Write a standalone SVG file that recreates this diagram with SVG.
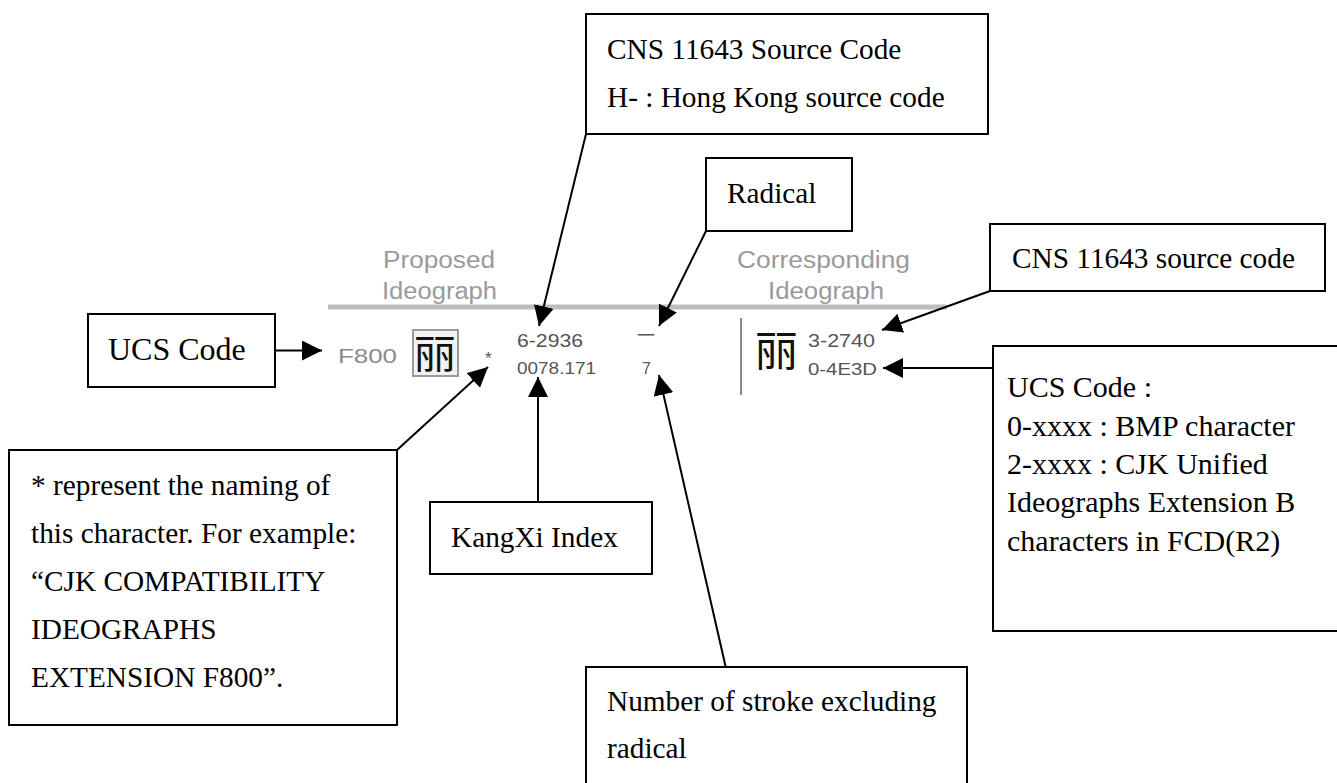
<svg xmlns="http://www.w3.org/2000/svg" width="1337" height="783" viewBox="0 0 1337 783">
<style>
.box{fill:#fff;stroke:#000;stroke-width:2}
.t{font-family:"Liberation Serif","Times New Roman",serif;font-size:29.3px;fill:#000}
.hd{font-family:"Liberation Sans",Arial,sans-serif;fill:#9a9a9a}
.code{font-family:"Liberation Sans",Arial,sans-serif;fill:#555}
.cjk{font-family:"Noto Sans CJK TC","Noto Sans CJK SC",sans-serif;font-weight:normal;fill:#111}
.conn{stroke:#000;stroke-width:2;fill:none;marker-end:url(#ah)}
</style>
<defs>
<marker id="ah" markerUnits="userSpaceOnUse" markerWidth="20" markerHeight="20" refX="20" refY="10" orient="auto">
<path d="M0,0 L20,10 L0,20 z" fill="#000"/>
</marker>
</defs>
<rect width="1337" height="783" fill="#fff"/>

<g id="table">
<text class="hd" x="383" y="268" font-size="23" textLength="112" lengthAdjust="spacingAndGlyphs">Proposed</text>
<text class="hd" x="382" y="299" font-size="23" textLength="115" lengthAdjust="spacingAndGlyphs">Ideograph</text>
<text class="hd" x="737" y="268" font-size="23" textLength="173" lengthAdjust="spacingAndGlyphs">Corresponding</text>
<text class="hd" x="768" y="299" font-size="23" textLength="116" lengthAdjust="spacingAndGlyphs">Ideograph</text>
<line x1="328" y1="307" x2="947" y2="307" stroke="#bdbdbd" stroke-width="5"/>
<text class="hd" x="338" y="363" font-size="21" textLength="59" lengthAdjust="spacingAndGlyphs" style="fill:#8a8a8a">F800</text>
<rect x="413" y="330" width="45" height="46" fill="#f2f2f2" stroke="#9a9a9a" stroke-width="2"/>
<text class="cjk" x="414" y="368" font-size="40" textLength="42" lengthAdjust="spacingAndGlyphs">丽</text>
<text class="code" x="485" y="364" font-size="17">*</text>
<text class="code" x="517" y="347" font-size="19" textLength="66" lengthAdjust="spacingAndGlyphs">6-2936</text>
<text class="code" x="517" y="374" font-size="16" textLength="79" lengthAdjust="spacingAndGlyphs">0078.171</text>
<text class="code" x="637" y="342" font-size="18" style="font-family:'Noto Sans CJK TC',sans-serif">一</text>
<text class="code" x="642" y="374" font-size="16">7</text>
<line x1="741" y1="318" x2="741" y2="395" stroke="#888" stroke-width="2"/>
<text class="cjk" x="755" y="366" font-size="42" textLength="43" lengthAdjust="spacingAndGlyphs">丽</text>
<text class="code" x="808" y="347" font-size="19" textLength="67" lengthAdjust="spacingAndGlyphs">3-2740</text>
<text class="code" x="808" y="375" font-size="17" textLength="69" lengthAdjust="spacingAndGlyphs">0-4E3D</text>
</g>

<g id="connectors">
<line class="conn" x1="275" y1="350.5" x2="322" y2="350.5"/>
<line class="conn" x1="586" y1="134" x2="539" y2="326"/>
<line class="conn" x1="706" y1="231" x2="659" y2="326"/>
<line class="conn" x1="990" y1="291" x2="882" y2="330"/>
<line class="conn" x1="993" y1="368" x2="883" y2="368"/>
<line class="conn" x1="397" y1="450" x2="488" y2="367"/>
<line class="conn" x1="538" y1="502" x2="538" y2="377"/>
<line class="conn" x1="725.7" y1="667" x2="659" y2="375"/>
</g>

<g id="node-cns-top">
<rect class="box" x="586" y="14" width="402" height="120"/>
<text class="t" x="607" y="59">CNS 11643 Source Code</text>
<text class="t" x="607" y="107">H- : Hong Kong source code</text>
</g>

<g id="node-radical">
<rect class="box" x="706" y="158" width="146" height="73"/>
<text class="t" x="727" y="203">Radical</text>
</g>

<g id="node-cns-source">
<rect class="box" x="990" y="224" width="335" height="67"/>
<text class="t" x="1012" y="268">CNS 11643 source code</text>
</g>

<g id="node-ucs-left">
<rect class="box" x="88" y="314" width="187" height="73"/>
<text class="t" x="108" y="360" style="font-size:32px">UCS Code</text>
</g>

<g id="node-ucs-right">
<rect class="box" x="993" y="346" width="360" height="285"/>
<text class="t" x="1007" y="397" style="font-size:30px">UCS Code :</text>
<text class="t" x="1007" y="436" style="font-size:30px">0-xxxx : BMP character</text>
<text class="t" x="1007" y="474" style="font-size:30px">2-xxxx : CJK Unified</text>
<text class="t" x="1007" y="512" style="font-size:30px">Ideographs Extension B</text>
<text class="t" x="1007" y="551" style="font-size:30px">characters in FCD(R2)</text>
</g>

<g id="node-naming">
<rect class="box" x="9" y="450" width="388" height="275"/>
<text class="t" x="31" y="495">* represent the naming of</text>
<text class="t" x="31" y="543">this character. For example:</text>
<text class="t" x="31" y="591">“CJK COMPATIBILITY</text>
<text class="t" x="31" y="639">IDEOGRAPHS</text>
<text class="t" x="31" y="687">EXTENSION F800”.</text>
</g>

<g id="node-kangxi">
<rect class="box" x="430" y="502" width="222" height="72"/>
<text class="t" x="451" y="547">KangXi Index</text>
</g>

<g id="node-strokes">
<rect class="box" x="586" y="667" width="381" height="130"/>
<text class="t" x="607" y="711">Number of stroke excluding</text>
<text class="t" x="607" y="758">radical</text>
</g>
</svg>
